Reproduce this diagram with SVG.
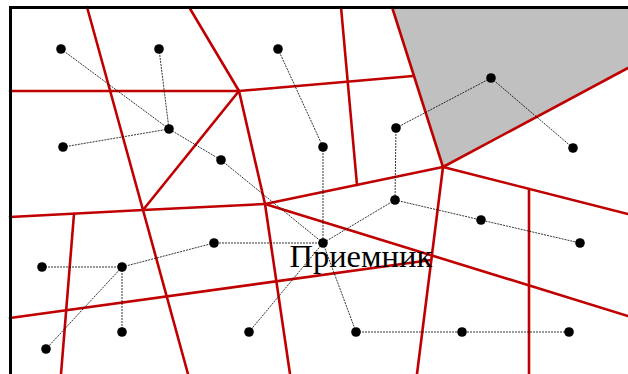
<svg xmlns="http://www.w3.org/2000/svg" width="628" height="374" viewBox="0 0 628 374">
<style>
.edge{stroke:#c00000;stroke-width:2.6;fill:none;stroke-linecap:round}
.link{stroke:#000;stroke-width:0.8;stroke-dasharray:2 1;fill:none}
.node{fill:#000}
.lbl{font-family:"Liberation Serif","Times New Roman",serif;font-size:32.5px;fill:#000}
</style>
<rect width="628" height="374" fill="#fff"/>
<polygon points="392,7 628,7 628,68 443,167" fill="#c0c0c0"/>
<g id="edges">
<line class="edge" x1="10" y1="91" x2="239" y2="91"/>
<line class="edge" x1="239" y1="91" x2="413" y2="76"/>
<line class="edge" x1="87" y1="7" x2="143" y2="210"/>
<line class="edge" x1="143" y1="210" x2="188" y2="374"/>
<line class="edge" x1="189" y1="7" x2="239" y2="91"/>
<line class="edge" x1="239" y1="91" x2="143" y2="210"/>
<line class="edge" x1="239" y1="91" x2="265" y2="204"/>
<line class="edge" x1="265" y1="204" x2="290" y2="374"/>
<polyline class="edge" points="10,217 143,210 265,204"/>
<line class="edge" x1="265" y1="204" x2="443" y2="167"/>
<line class="edge" x1="265" y1="204" x2="628" y2="316"/>
<line class="edge" x1="10" y1="318" x2="431" y2="260"/>
<line class="edge" x1="443" y1="167" x2="417" y2="374"/>
<line class="edge" x1="443" y1="167" x2="628" y2="214"/>
<line class="edge" x1="529" y1="189" x2="529" y2="374"/>
<line class="edge" x1="443" y1="167" x2="628" y2="68"/>
<line class="edge" x1="392" y1="7" x2="443" y2="167"/>
<line class="edge" x1="341" y1="7" x2="357" y2="185"/>
<line class="edge" x1="74" y1="214" x2="61" y2="374"/>
</g>
<g id="connectors">
<polyline class="link" points="61,49 169,129 221,160 323,243"/>
<line class="link" x1="159" y1="49" x2="169" y2="129"/>
<line class="link" x1="63" y1="147" x2="169" y2="129"/>
<line class="link" x1="278" y1="49" x2="323" y2="147"/>
<line class="link" x1="323" y1="147" x2="323" y2="243"/>
<polyline class="link" points="396,128 491,78 573,148"/>
<line class="link" x1="396" y1="128" x2="395" y2="200"/>
<line class="link" x1="395" y1="200" x2="323" y2="243"/>
<polyline class="link" points="395,200 481,220 580,243"/>
<line class="link" x1="323" y1="243" x2="214" y2="243"/>
<line class="link" x1="214" y1="243" x2="122" y2="267"/>
<line class="link" x1="122" y1="267" x2="42" y2="267"/>
<line class="link" x1="122" y1="267" x2="122" y2="332"/>
<line class="link" x1="122" y1="267" x2="46" y2="349"/>
<line class="link" x1="323" y1="243" x2="249" y2="332"/>
<line class="link" x1="323" y1="243" x2="356" y2="332"/>
<polyline class="link" points="356,332 462,332 569,332"/>
</g>
<g id="n1"><circle class="node" cx="61" cy="49" r="4.8"/></g>
<g id="n2"><circle class="node" cx="159" cy="49" r="4.8"/></g>
<g id="n3"><circle class="node" cx="278" cy="49" r="4.8"/></g>
<g id="n4"><circle class="node" cx="169" cy="129" r="4.8"/></g>
<g id="n5"><circle class="node" cx="63" cy="147" r="4.8"/></g>
<g id="n6"><circle class="node" cx="221" cy="160" r="4.8"/></g>
<g id="n7"><circle class="node" cx="323" cy="147" r="4.8"/></g>
<g id="n8"><circle class="node" cx="396" cy="128" r="4.8"/></g>
<g id="n9"><circle class="node" cx="491" cy="78" r="4.8"/></g>
<g id="n10"><circle class="node" cx="573" cy="148" r="4.8"/></g>
<g id="n11"><circle class="node" cx="395" cy="200" r="4.8"/></g>
<g id="n12"><circle class="node" cx="481" cy="220" r="4.8"/></g>
<g id="n13"><circle class="node" cx="580" cy="243" r="4.8"/></g>
<g id="receiver"><circle class="node" cx="323" cy="243" r="4.8"/><text class="lbl" x="289.5" y="267">Приемник</text></g>
<g id="n15"><circle class="node" cx="214" cy="243" r="4.8"/></g>
<g id="n16"><circle class="node" cx="122" cy="267" r="4.8"/></g>
<g id="n17"><circle class="node" cx="42" cy="267" r="4.8"/></g>
<g id="n18"><circle class="node" cx="122" cy="332" r="4.8"/></g>
<g id="n19"><circle class="node" cx="46" cy="349" r="4.8"/></g>
<g id="n20"><circle class="node" cx="249" cy="332" r="4.8"/></g>
<g id="n21"><circle class="node" cx="356" cy="332" r="4.8"/></g>
<g id="n22"><circle class="node" cx="462" cy="332" r="4.8"/></g>
<g id="n23"><circle class="node" cx="569" cy="332" r="4.8"/></g>
<path d="M10.5,374 V7.5 H628" fill="none" stroke="#000" stroke-width="3"/>
</svg>
